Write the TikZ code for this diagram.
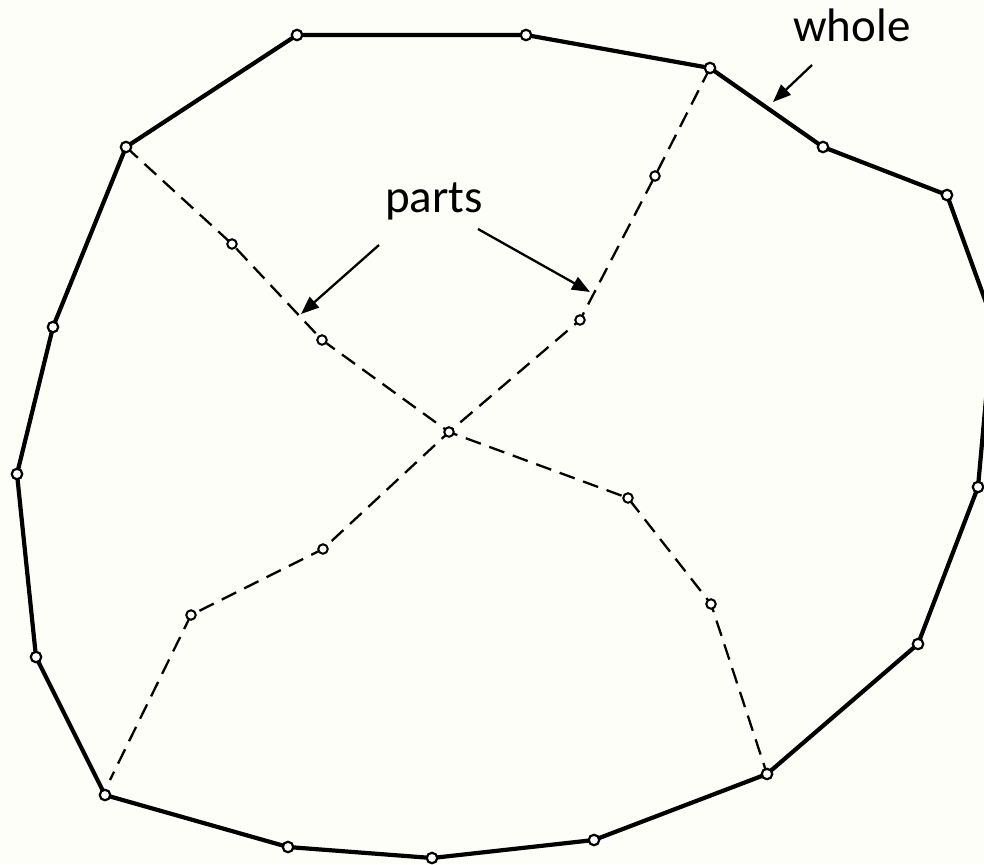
\documentclass[tikz,border=0pt]{standalone}
\usepackage{fontspec}
\setmainfont{Carlito}
\usetikzlibrary{arrows.meta}
\definecolor{bgcream}{RGB}{254,254,248}
\tikzset{
  outer/.style={line width=4.2pt, line join=miter},
  partline/.style={line width=2.3pt, dash pattern=on 16pt off 9pt},
  overt/.style={circle, draw, fill=white, line width=2.2pt, inner sep=0pt, minimum size=10.5pt},
  ivert/.style={circle, draw, fill=white, line width=2pt, inner sep=0pt, minimum size=9.5pt},
  pointer/.style={line width=2.3pt, -{Triangle[length=18pt,width=14pt]}},
  lbl/.style={font=\fontsize{47}{50}\selectfont, anchor=base, inner sep=0pt}
}
\begin{document}
\begin{tikzpicture}[x=1pt,y=-1pt]
\fill[bgcream] (0,0) rectangle (984,864);
\useasboundingbox (0,0) rectangle (984,864);
\clip (0,0) rectangle (984,864);
% outer polygon vertices
\coordinate (o1) at (297,35);
\coordinate (o2) at (526,35);
\coordinate (o3) at (710,68);
\coordinate (o4) at (823,147);
\coordinate (o5) at (947,195);
\coordinate (o6) at (993,322);
\coordinate (o7) at (978,487);
\coordinate (o8) at (918,644);
\coordinate (o9) at (767,774);
\coordinate (o10) at (594,840);
\coordinate (o11) at (432,858);
\coordinate (o12) at (288,847);
\coordinate (o13) at (105,795);
\coordinate (o14) at (36,657);
\coordinate (o15) at (17,474);
\coordinate (o16) at (53,327);
\coordinate (o17) at (126,147);
% inner part vertices
\coordinate (a1) at (232,244);
\coordinate (a2) at (322,340);
\coordinate (c) at (449,432);
\coordinate (a3) at (628,498);
\coordinate (a4) at (711,604);
\coordinate (b1) at (655,176);
\coordinate (b2) at (580,320);
\coordinate (b3) at (323,549);
\coordinate (b4) at (191,615);
\coordinate (bend) at (110,780);
% dashed parts
\draw[partline] (o17) -- (a1) -- (a2) -- (c) -- (a3) -- (a4) -- (o9);
\draw[partline] (o3) -- (b1) -- (b2) -- (c) -- (b3) -- (b4) -- (bend);
% outer boundary
\draw[outer] (o1) -- (o2) -- (o3) -- (o4) -- (o5) -- (o6) -- (o7) -- (o8) -- (o9) -- (o10) -- (o11) -- (o12) -- (o13) -- (o14) -- (o15) -- (o16) -- (o17) -- cycle;
% vertex circles
\foreach \p in {o1,o2,o3,o4,o5,o7,o8,o9,o10,o11,o12,o13,o14,o15,o16,o17}
  \node[overt] at (\p) {};
\foreach \p in {a1,a2,c,a3,a4,b1,b2,b3,b4}
  \node[ivert] at (\p) {};
% labels
\node[lbl] (whole) at (852,42) {whole};
\node[lbl] (parts) at (434,212) {parts};
\coordinate (w0) at (812,65);
\coordinate (w1) at (773,102);
\coordinate (p0) at (379,245);
\coordinate (p1) at (301,314);
\coordinate (q0) at (478,229);
\coordinate (q1) at (590,292);
\draw[pointer] (w0) -- (w1);
\draw[pointer] (p0) -- (p1);
\draw[pointer] (q0) -- (q1);
\end{tikzpicture}
\end{document}
